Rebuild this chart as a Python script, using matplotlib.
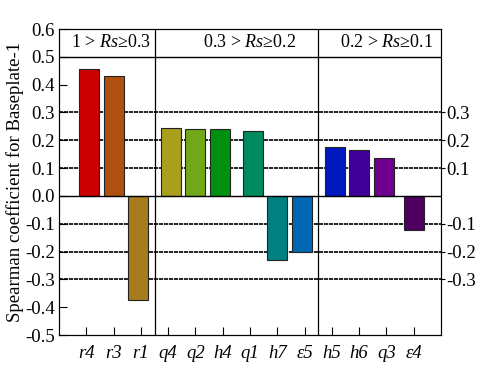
import matplotlib.pyplot as plt
import numpy as np

plt.rcParams['font.family'] = 'Liberation Serif'
plt.rcParams['mathtext.fontset'] = 'custom'
plt.rcParams['mathtext.rm'] = 'Liberation Serif'
plt.rcParams['mathtext.it'] = 'Liberation Serif:italic'

labels = ['r4', 'r3', 'r1', 'q4', 'q2', 'h4', 'q1', 'h7', 'ε5', 'h5', 'h6', 'q3', 'ε4']
values = [0.458, 0.431, -0.375, 0.244, 0.239, 0.239, 0.233, -0.232, -0.201, 0.177, 0.165, 0.137, -0.121]
colors = ['#cc0000', '#b05010', '#a67c1c', '#a8a01c', '#70a818', '#009010', '#008a60',
          '#008080', '#0068b0', '#0018c0', '#400098', '#700090', '#500060']
groups = ['1 > $Rs$≥0.3', '0.3 > $Rs$≥0.2', '0.2 > $Rs$≥0.1']
ref_levels = [0.3, 0.2, 0.1, -0.1, -0.2, -0.3]
yticks = [-0.5, -0.4, -0.3, -0.2, -0.1, 0.0, 0.1, 0.2, 0.3, 0.4, 0.5, 0.6]

fig = plt.figure(figsize=(4.79, 3.73), dpi=100)
ax = fig.add_axes([59/479, 1-335/373, 382/479, 306/373])

idx = np.arange(1, len(labels) + 1)
shift = np.array([0.1, 0.0, -0.1] * 5)[:len(labels)]
shift[-1] = 0.0
ax.bar(idx + shift, values, width=0.73, color=colors, edgecolor='#222222', linewidth=0.8, zorder=3)

for v in ref_levels:
    ax.axhline(v, color='black', lw=1.2, ls=(0, (2.5, 0.5)), zorder=1)
ax.axhline(0.0, color='black', lw=1.0, zorder=4)
ax.axhline(0.5, color='black', lw=1.0, zorder=4)
for xv in [3.5, 9.5]:
    ax.axvline(xv, color='black', lw=0.9, zorder=4)

gx = [1.9, 7.0, 12.0]
for g, x in zip(groups, gx):
    ax.text(x, 0.55, g, ha='center', va='center', fontsize=13)

ax.set_xlim(0, 14)
ax.set_ylim(-0.5, 0.6)
ax.set_xticks(idx)
ax.set_xticklabels(labels, fontstyle='italic', fontsize=13.5)
ax.set_yticks(yticks)
ax.set_yticklabels(['%.1f' % t for t in yticks], fontsize=13.5)
ax.tick_params(axis='both', direction='in', length=6, width=0.8, top=False, right=False)
ax.tick_params(axis='x', pad=7)
ax.tick_params(axis='y', pad=3)
ax.set_ylabel('Spearman coefficient for Baseplate-1', fontsize=13.5, labelpad=1)

ax2 = ax.twinx()
ax2.set_ylim(-0.5, 0.6)
ax2.set_yticks(ref_levels)
ax2.set_yticklabels(['%.1f' % v for v in ref_levels], fontsize=13.5)
ax2.tick_params(axis='y', direction='out', length=3, width=0.8, pad=1)

fig.savefig('out.png', dpi=100)
